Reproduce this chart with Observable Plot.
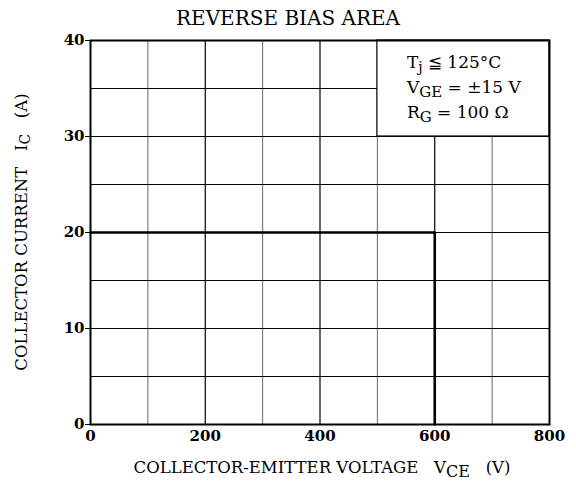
<!DOCTYPE html>
<html><head><meta charset="utf-8">
<script src="https://cdn.jsdelivr.net/npm/d3@7"></script>
<script src="https://cdn.jsdelivr.net/npm/@observablehq/plot@0.6"></script>
<style>body{margin:0;background:#fff;} svg{font-family:"DejaVu Serif",serif;} svg text{white-space:pre;}</style>
</head><body><div id="chart"></div>
<script>
const xTicks = [0, 200, 400, 600, 800];
const yTicks = [0, 10, 20, 30, 40];
const xMinorGrid = [100, 300, 500, 700];
const xMajorGrid = [200, 400, 600];
const yGrid = [5, 10, 15, 20, 25, 30, 35];
const rbsoaV = [0, 600, 600];
const rbsoaI = [20, 20, 0];
const boxX = [500, 800];
const boxY = [30, 40];

const rbsoa = rbsoaV.map((v, i) => ({v, i: rbsoaI[i]}));

const plot = Plot.plot({
  width: 576, height: 489,
  marginLeft: 90, marginRight: 27, marginTop: 40, marginBottom: 65,
  style: {fontFamily: '"DejaVu Serif", serif', fontSize: "15px", color: "#000", background: "#fff"},
  x: {domain: [0, 800], ticks: xTicks, label: null},
  y: {domain: [0, 40], ticks: yTicks, label: null},
  marks: [
    Plot.ruleX(xMinorGrid, {stroke: "#000", strokeWidth: 0.8, strokeOpacity: 0.75}),
    Plot.ruleX(xMajorGrid, {stroke: "#000", strokeWidth: 1.2}),
    Plot.ruleY(yGrid, {stroke: "#000", strokeWidth: 1}),
    Plot.rect([{}], {x1: boxX[0], x2: boxX[1], y1: boxY[0], y2: boxY[1], fill: "#fff", stroke: "#000", strokeWidth: 1.2}),
    Plot.line(rbsoa, {x: "v", y: "i", stroke: "#000", strokeWidth: 2.6}),
    Plot.frame({stroke: "#000", strokeWidth: 2}),
    Plot.axisY({ticks: yTicks, tickSize: 5, tickPadding: 1, fontSize: 15, fontWeight: 600, label: null}),
    Plot.axisX({ticks: xTicks, tickSize: 0, tickPadding: 6, fontSize: 15, fontWeight: 600, label: null})
  ]
});
document.getElementById("chart").appendChild(plot);

const svg = d3.select(plot);
const sx = plot.scale("x"), sy = plot.scale("y");
svg.selectAll("text").attr("fill", "#000");

// Title
svg.append("text").attr("x", 288).attr("y", 25).attr("text-anchor", "middle")
  .attr("font-size", 20).attr("fill", "#000").text("REVERSE BIAS AREA");

// X label
const xl = svg.append("text").attr("x", 322).attr("y", 473).attr("text-anchor", "middle")
  .attr("font-size", 16.5).attr("fill", "#000");
xl.append("tspan").text("COLLECTOR-EMITTER VOLTAGE   V");
xl.append("tspan").attr("font-size", 16).attr("dy", 4).text("CE");
xl.append("tspan").attr("dy", -4).text("   (V)");

// Y label
const yl = svg.append("text").attr("transform", "translate(27,232) rotate(-90)").attr("text-anchor", "middle")
  .attr("font-size", 16.5).attr("fill", "#000");
yl.append("tspan").text("COLLECTOR CURRENT   I");
yl.append("tspan").attr("font-size", 14).attr("dy", 3).text("C");
yl.append("tspan").attr("dy", -3).text("   (A)");

// Annotation
const ax = sx.apply(500) + 30;
const lines = [
  [["T", 0], ["j", 4, 14], [" ≦ 125°C", -4]],
  [["V", 0], ["GE", 4, 15], [" = ±15 V", -4]],
  [["R", 0], ["G", 4, 15], [" = 100 Ω", -4]]
];
const baseY = [68, 93, 118];
lines.forEach((ln, k) => {
  const t = svg.append("text").attr("x", ax).attr("y", baseY[k]).attr("text-anchor", "start")
    .attr("font-size", 17).attr("fill", "#000");
  ln.forEach(([s, dy, fs]) => {
    const ts = t.append("tspan").attr("dy", dy).text(s);
    if (fs) ts.attr("font-size", fs);
  });
});
</script></body></html>
